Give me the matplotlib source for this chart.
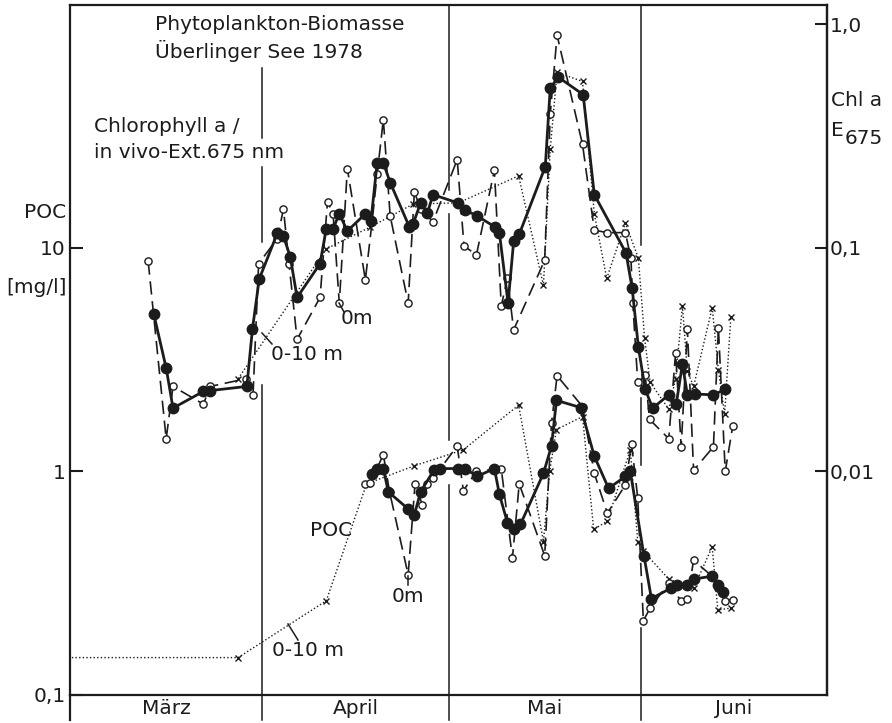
import matplotlib
matplotlib.use("Agg")
import matplotlib.pyplot as plt
import matplotlib.transforms as mtransforms
from matplotlib.ticker import FixedLocator, NullLocator

# ---------------- data (days since 1 March 1978) ----------------
# Upper group: Chlorophyll a / in vivo extinction (plotted on the POC scale, right axis = /100)
chl_010_day = [13.5, 15.5, 16.6, 21.5, 22.6, 28.5, 29.4, 30.5, 33.4, 34.4, 35.5, 36.6, 40.3, 41.3,
               42.4, 43.4, 44.7, 47.6, 48.5, 49.5, 50.5, 51.6, 54.7, 55.3, 56.5, 57.6, 58.5, 62.5,
               63.6, 65.6, 68.5, 69.2, 70.6, 71.5, 72.4, 76.6, 77.4, 78.7, 82.7, 84.5, 89.6, 90.6,
               91.6, 92.7, 93.9, 96.5, 97.7, 98.7, 99.5, 100.8, 103.7, 105.6]
chl_010_val = [5.06, 2.9, 1.92, 2.28, 2.3, 2.4, 4.33, 7.26, 11.6, 11.3, 9.1, 6.0, 8.5, 12.2,
               12.2, 14.2, 11.9, 14.2, 13.2, 24.0, 24.0, 19.6, 12.4, 12.8, 15.9, 14.3, 17.3, 15.9,
               14.8, 13.9, 12.4, 11.7, 5.66, 10.7, 11.5, 23.1, 52.0, 58.0, 48.5, 17.3, 9.5, 6.6,
               3.6, 2.33, 1.92, 2.2, 2.0, 3.02, 2.2, 2.22, 2.2, 2.33]

chl_0m_day = [12.6, 15.5, 16.6, 21.5, 22.6, 28.4, 29.5, 30.4, 33.4, 34.4, 35.3, 36.6, 40.3, 41.5,
              42.4, 43.4, 44.7, 47.6, 48.7, 49.5, 50.5, 51.6, 54.5, 55.5, 56.5, 58.5, 62.4, 63.5,
              65.5, 68.4, 69.5, 70.5, 71.5, 76.5, 77.4, 78.5, 82.6, 84.5, 86.6, 89.5, 90.4, 90.7,
              91.5, 92.7, 93.4, 96.5, 97.6, 98.5, 99.5, 100.5, 103.7, 104.5, 105.6, 106.8]
chl_0m_val = [8.7, 1.4, 2.4, 2.0, 2.4, 2.6, 2.2, 8.5, 11.0, 14.9, 8.5, 3.9, 6.0, 16.1,
              14.2, 5.66, 22.6, 7.2, 13.2, 21.3, 37.5, 13.9, 5.66, 17.8, 14.9, 13.1, 24.8, 10.2,
              9.3, 22.3, 5.5, 7.3, 4.3, 8.8, 39.8, 89.3, 29.0, 12.0, 11.7, 11.7, 9.0, 5.66,
              2.5, 2.7, 1.71, 1.40, 3.4, 1.29, 4.33, 1.01, 1.29, 4.4, 1.0, 1.59]

ext_day = [27.1, 41.3, 48.4, 55.3, 62.6, 72.3, 76.3, 77.4, 78.5, 82.6, 84.5, 86.5, 89.5, 91.6,
           92.6, 93.5, 96.5, 97.6, 98.7, 99.5, 100.5, 103.5, 104.5, 105.5, 106.5]
ext_val = [2.6, 9.9, 12.4, 15.7, 15.9, 21.0, 6.8, 27.8, 61.0, 55.5, 14.2, 7.3, 12.9, 9.0,
           3.95, 2.5, 1.9, 2.6, 5.5, 2.8, 2.4, 5.4, 2.84, 1.8, 4.9]

# Lower group: POC [mg/l]
poc_010_day = [48.7, 49.5, 50.5, 51.3, 54.5, 55.5, 56.5, 58.7, 59.7, 62.6, 63.7, 65.6, 68.4, 69.2,
               70.5, 71.5, 72.6, 76.3, 77.6, 78.4, 82.3, 84.5, 86.8, 89.5, 90.3, 92.5, 93.7, 96.8,
               97.9, 99.4, 100.5, 103.5, 104.4, 105.3]
poc_010_val = [0.97, 1.03, 1.03, 0.81, 0.68, 0.64, 0.81, 1.02, 1.03, 1.03, 1.03, 0.95, 1.03, 0.79,
               0.59, 0.55, 0.58, 0.98, 1.30, 2.08, 1.93, 1.17, 0.84, 0.95, 1.0, 0.42, 0.27, 0.30,
               0.31, 0.31, 0.33, 0.34, 0.31, 0.29]

poc_0m_day = [47.6, 48.4, 50.5, 51.5, 54.5, 55.6, 56.8, 57.6, 58.5, 62.4, 63.4, 65.5, 69.5, 71.3,
              72.4, 76.5, 77.6, 78.5, 82.6, 84.5, 86.6, 89.5, 90.5, 91.5, 92.4, 93.5, 96.5, 98.5,
              99.5, 100.5, 103.5, 104.4, 105.6, 106.8]
poc_0m_val = [0.875, 0.89, 1.19, 0.81, 0.345, 0.875, 0.71, 0.875, 0.93, 1.30, 0.82, 1.0, 1.03, 0.41,
              0.88, 0.42, 1.64, 2.68, 1.95, 0.98, 0.65, 0.87, 1.33, 0.76, 0.215, 0.245, 0.317, 0.263,
              0.27, 0.40, 0.34, 0.30, 0.263, 0.267]

poc_dot_day = [0.3, 27.1, 41.3, 47.8, 55.5, 63.4, 72.3, 76.3, 77.3, 78.4, 82.6, 84.4, 86.6, 90.3,
               91.5, 92.4, 96.5, 100.5, 103.5, 104.4, 106.6]
poc_dot_val = [0.147, 0.147, 0.264, 0.88, 1.06, 1.25, 1.98, 0.485, 1.0, 1.54, 1.76, 0.55, 0.6, 1.25,
               0.485, 0.44, 0.33, 0.30, 0.46, 0.24, 0.245]

month_names = ["März", "April", "Mai", "Juni"]
month_starts = [0, 31, 61, 92, 122]

left_ticks = [0.1, 1, 10]
left_ticklabels = ["0,1", "1", "10"]
right_ticks = [0.01, 0.1, 1.0]
right_ticklabels = ["0,01", "0,1", "1,0"]

# ---------------- figure ----------------
W, H = 892, 723
fig = plt.figure(figsize=(W / 100, H / 100), dpi=100)
fig.patch.set_facecolor("white")
L, R, T, B = 70, 827, 5, 695
ax = fig.add_axes([L / W, 1 - B / H, (R - L) / W, (B - T) / H])
ink = "#1c1c1c"
FONT = "DejaVu Sans"
FS = 14.5

ax.set_yscale("log")
ax.set_xlim(month_starts[0], month_starts[-1])
ax.set_ylim(0.1, 122)
for s in ax.spines.values():
    s.set_color(ink)
    s.set_linewidth(1.6)

ax.yaxis.set_major_locator(FixedLocator(left_ticks))
ax.set_yticklabels(left_ticklabels, fontsize=FS, family=FONT, color=ink)
ax.yaxis.set_minor_locator(NullLocator())
ax.tick_params(axis="y", direction="in", length=9, width=1.5, pad=3, colors=ink)
ax.set_xticks([])

sec = ax.secondary_yaxis("right", functions=(lambda v: v / 100.0, lambda v: v * 100.0))
sec.set_yscale("log")
sec.yaxis.set_major_locator(FixedLocator(right_ticks))
sec.yaxis.set_minor_locator(NullLocator())
sec.set_yticklabels(right_ticklabels, fontsize=FS, family=FONT, color=ink)
sec.tick_params(axis="y", direction="in", length=9, width=1.5, pad=2, colors=ink)
sec.spines["right"].set_linewidth(1.6)
sec.spines["right"].set_color(ink)

# month separators (broken where data/text crosses), extending below the axis
xt = mtransforms.blended_transform_factory(ax.transData, ax.transAxes)
def fy(py):
    return (B - py) / (B - T)
seg_px = {
    31: [(68, 138), (167, 242), (385, 720)],
    61: [(5, 190), (214, 440), (485, 720)],
    92: [(5, 245), (398, 465), (628, 720)],
}
for d, segs in seg_px.items():
    for a, b in segs:
        ax.plot([d, d], [fy(a), fy(b)], transform=xt, color=ink, lw=1.1, clip_on=False, zorder=1)
ax.plot([0, 0], [0, fy(720)], transform=xt, color=ink, lw=1.6, clip_on=False)

for i, name in enumerate(month_names):
    c = (month_starts[i] + month_starts[i + 1]) / 2
    ax.text(c, fy(708), name, transform=xt, ha="center", va="center",
            fontsize=FS, family=FONT, color=ink)

# ---------------- series ----------------
solid_kw = dict(color=ink, lw=2.0, marker="o", ms=7.5, mfc=ink, mec=ink, zorder=5)
dash_kw = dict(color=ink, lw=1.2, dashes=(8, 4), marker="o", ms=5.2, mfc="white", mec=ink,
               mew=1.0, zorder=4)
dot_kw = dict(color=ink, lw=1.0, dashes=(1, 1.6), marker="x", ms=4.5, mec=ink, mew=1.0, zorder=3)

ax.plot(ext_day, ext_val, **dot_kw)
ax.plot(chl_0m_day, chl_0m_val, **dash_kw)
ax.plot(chl_010_day, chl_010_val, **solid_kw)

ax.plot(poc_dot_day, poc_dot_val, markevery=list(range(1, len(poc_dot_day))), **dot_kw)
ax.plot(poc_0m_day, poc_0m_val, **dash_kw)
ax.plot(poc_010_day, poc_010_val, **solid_kw)

# ---------------- annotations ----------------
def ftext(px, py, s, **kw):
    kw.setdefault("fontsize", FS)
    kw.setdefault("family", FONT)
    kw.setdefault("color", ink)
    fig.text(px / W, 1 - py / H, s, **kw)

def fline(p0, p1):
    fig.add_artist(plt.Line2D([p0[0] / W, p1[0] / W], [1 - p0[1] / H, 1 - p1[1] / H],
                              color=ink, lw=1.1))

ftext(155, 24, "Phytoplankton-Biomasse", va="center")
ftext(155, 51, "Überlinger See 1978", va="center")
ftext(94, 127, "Chlorophyll a /", va="center")
ftext(94, 153, "in vivo-Ext.675 nm", va="center",
      bbox=dict(facecolor="white", edgecolor="none", pad=0))
ftext(66, 212, "POC", ha="right", va="center")
ftext(67, 288, "[mg/l]", ha="right", va="center")
ftext(831, 100, "Chl a", ha="left", va="center")
ftext(831, 130, "E", ha="left", va="center")
ftext(845, 139, "675", ha="left", va="center")

ftext(341, 318, "0m", va="center")
fline((339, 303), (344, 312))
ftext(271, 355, "0-10 m", va="center")
fline((262, 333), (272, 344))

ftext(310, 530, "POC", ha="left", va="center")
ftext(392, 596, "0m", va="center")
fline((408, 576), (408, 585))
ftext(272, 650, "0-10 m", va="center")
fline((288, 624), (298, 640))

fig.savefig("out.png", dpi=100, facecolor="white")
